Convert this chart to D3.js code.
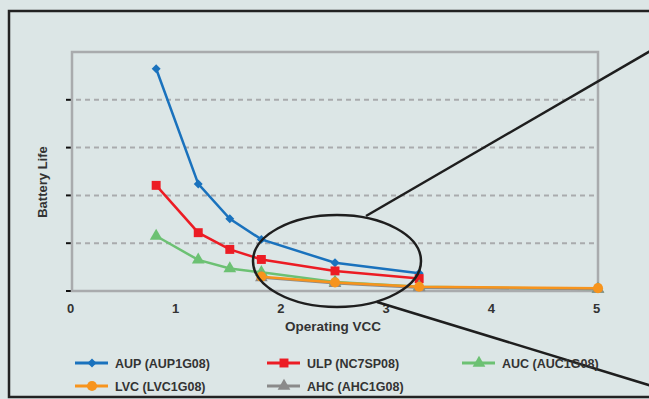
<!DOCTYPE html>
<html><head><meta charset="utf-8">
<script src="https://cdn.jsdelivr.net/npm/d3@7"></script>
<style>html,body{margin:0;padding:0;background:#dce6e6;}svg{display:block;}</style>
</head><body><svg id="c" width="649" height="399"></svg>
<script>
const xTicks = [0,1,2,3,4,5];
const yTicks = [0,1,2,3,4];
const seriesNames = ["AUP (AUP1G08)","ULP (NC7SP08)","AUC (AUC1G08)","LVC (LVC1G08)","AHC (AHC1G08)"];
const seriesColors = ["#1a72bd","#ec1c24","#6cc173","#f7941d","#8a8a8a"];
const seriesSymbols = ["diamond","square","triangle","circle","triangle"];
const aupX = [0.8,1.2,1.5,1.8,2.5,3.3];
const aupY = [4.65,2.24,1.51,1.08,0.59,0.37];
const ulpX = [0.8,1.2,1.5,1.8,2.5,3.3];
const ulpY = [2.21,1.22,0.87,0.66,0.42,0.26];
const aucX = [0.8,1.2,1.5,1.8,2.5,3.3,5];
const aucY = [1.15,0.65,0.47,0.39,0.19,0.09,0.04];
const lvcX = [1.8,2.5,3.3,5];
const lvcY = [0.30,0.18,0.09,0.06];
const ahcX = [1.8,2.5,3.3,5];
const ahcY = [0.28,0.16,0.07,0.04];
const xTitle = "Operating VCC";
const yTitle = "Battery Life";

const svg = d3.select("#c");
const W=649,H=399;
svg.append("rect").attr("width",W).attr("height",H).attr("fill","#dce6e6");
// outer frame
svg.append("rect").attr("x",9).attr("y",11).attr("width",W).attr("height",386)
  .attr("fill","none").attr("stroke","#222").attr("stroke-width",2.5);

const L=72,R=598,T=52,B=291;
const x = d3.scaleLinear().domain([0,5]).range([L,R]);
const y = d3.scaleLinear().domain([0,5]).range([B,T]);

// grid
const g = svg.append("g");
g.selectAll("line.grid").data(yTicks.filter(d=>d>0)).join("line")
  .attr("x1",L+4).attr("x2",R-4).attr("y1",d=>y(d)).attr("y2",d=>y(d))
  .attr("stroke","#a9abad").attr("stroke-width",2).attr("stroke-dasharray","5,4");
// plot border
svg.append("rect").attr("x",L).attr("y",T).attr("width",R-L).attr("height",B-T)
  .attr("fill","none").attr("stroke","#a9abad").attr("stroke-width",2.5);
// y ticks
g.selectAll("line.yt").data(yTicks).join("line")
  .attr("x1",L-6).attr("x2",L-1).attr("y1",d=>y(d)).attr("y2",d=>y(d))
  .attr("stroke","#111").attr("stroke-width",2);

// x axis labels
const xa = d3.axisBottom(x).tickValues(xTicks).tickSize(0).tickPadding(0).tickFormat(d3.format("d"));
const xg = svg.append("g").attr("transform",`translate(0,${B})`).call(xa);
xg.select(".domain").remove();
xg.selectAll("text").attr("y",22).attr("dy",0).attr("dx",-2)
  .attr("font-family","Liberation Sans, Arial, sans-serif").attr("font-weight","bold")
  .attr("font-size",13).attr("fill","#333");

svg.append("text").attr("x",333).attr("y",331).attr("text-anchor","middle")
  .attr("font-family","Liberation Sans, Arial, sans-serif").attr("font-weight","bold")
  .attr("font-size",13.5).attr("fill","#333").text(xTitle);
svg.append("text").attr("transform","translate(47,182) rotate(-90)").attr("text-anchor","middle")
  .attr("font-family","Liberation Sans, Arial, sans-serif").attr("font-weight","bold")
  .attr("font-size",13).attr("fill","#333").text(yTitle);

const allX=[aupX,ulpX,aucX,lvcX,ahcX], allY=[aupY,ulpY,aucY,lvcY,ahcY];
const series = seriesNames.map((n,i)=>({name:n,color:seriesColors[i],sym:seriesSymbols[i],
  pts:allX[i].map((v,j)=>({x:v,y:allY[i][j]}))}));
const diamondSym = {draw(ctx,size){const r=Math.sqrt(size)/2; ctx.moveTo(0,-r);ctx.lineTo(r,0);ctx.lineTo(0,r);ctx.lineTo(-r,0);ctx.closePath();}};
const symMap={diamond:[diamondSym,80],square:[d3.symbolSquare,80],triangle:[d3.symbolTriangle,70],circle:[d3.symbolCircle,80]};
const line = d3.line().x(d=>x(d.x)).y(d=>y(d.y));
const order=[0,1,2,4,3];
order.forEach(i=>{
  const s=series[i];
  svg.append("path").attr("d",line(s.pts)).attr("fill","none").attr("stroke",s.color).attr("stroke-width",2.5);
  const sm=symMap[s.sym];
  svg.selectAll(null).data(s.pts).join("path")
    .attr("transform",d=>`translate(${x(d.x)},${y(d.y)})`)
    .attr("d",d3.symbol(sm[0],sm[1])).attr("fill",s.color);
});

// ellipse callout
svg.append("ellipse").attr("cx",337).attr("cy",261).attr("rx",84).attr("ry",46)
  .attr("fill","none").attr("stroke","#1e1e1e").attr("stroke-width",2.5);
svg.append("line").attr("x1",366).attr("y1",216).attr("x2",652).attr("y2",50)
  .attr("stroke","#1e1e1e").attr("stroke-width",2.5);
svg.append("line").attr("x1",377).attr("y1",302).attr("x2",652).attr("y2",386)
  .attr("stroke","#1e1e1e").attr("stroke-width",2.5);

// legend
const legPos=[[75,363],[267,363],[462,363],[75,386],[267,386]];
series.forEach((s,i)=>{
  const [lx,ly]=legPos[i];
  const lg=svg.append("g").attr("transform",`translate(${lx},${ly})`);
  lg.append("line").attr("x1",0).attr("x2",33).attr("y1",0).attr("y2",0).attr("stroke",s.color).attr("stroke-width",3);
  const sm=symMap[s.sym];
  lg.append("path").attr("transform","translate(17,0)").attr("d",d3.symbol(sm[0],sm[1])).attr("fill",s.color);
  lg.append("text").attr("x",40).attr("y",4.5).attr("font-family","Liberation Sans, Arial, sans-serif")
    .attr("font-weight","bold").attr("font-size",12.5).attr("fill","#333").text(s.name);
});
</script></body></html>
